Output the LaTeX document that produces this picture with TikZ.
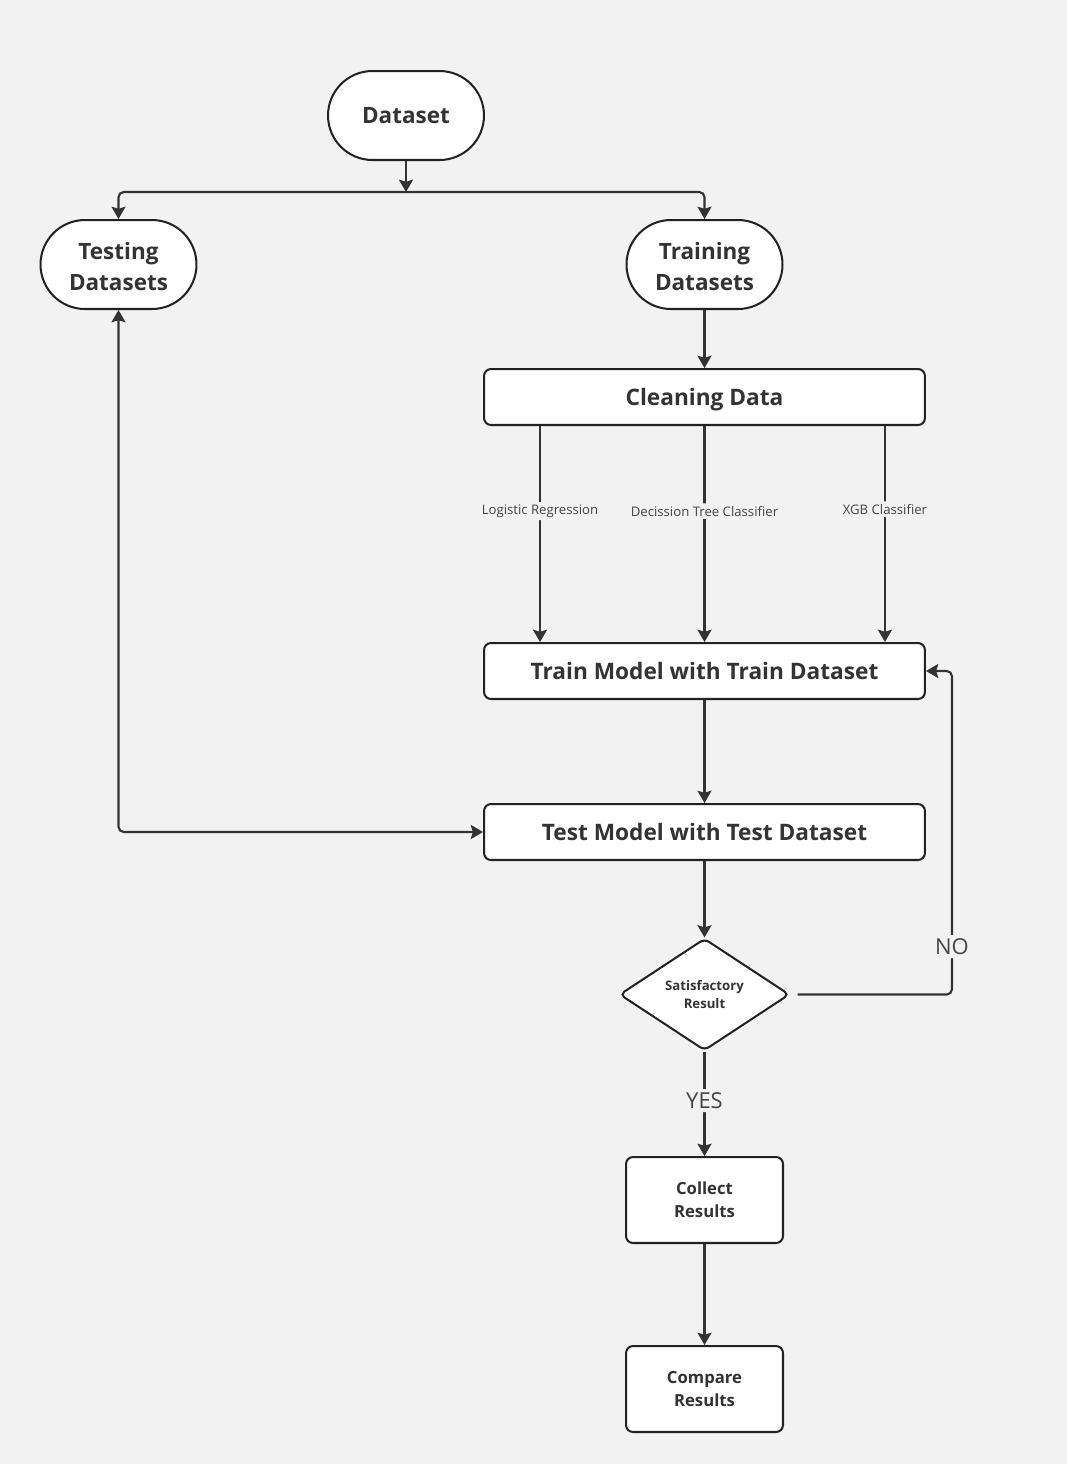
\documentclass[tikz,border=0pt]{standalone}
\usepackage{fontspec}
\setmainfont{Open Sans}
\usetikzlibrary{arrows.meta,shapes.geometric,calc}
\definecolor{bg}{HTML}{F2F2F2}
\definecolor{ink}{HTML}{333333}
\definecolor{edge}{HTML}{222222}
\definecolor{lbl}{HTML}{444444}
% taller first line, so that a two-line label sits a little lower
\newcommand{\toplift}{\rule{0pt}{11.6pt}}
\begin{document}
\begin{tikzpicture}[x=0.02cm,y=-0.02cm,
  every node/.style={text=ink},
  startbox/.style={draw=edge,line width=1.15pt,fill=white,rounded corners=0.89cm,
    minimum width=3.12cm,minimum height=1.78cm,inner sep=0pt,align=center,
    font=\bfseries\fontsize{12.8}{17.6}\selectfont},
  widebox/.style={draw=edge,line width=1.15pt,fill=white,rounded corners=4pt,
    minimum width=8.82cm,minimum height=1.12cm,inner sep=0pt,align=center,
    text depth=0pt,font=\bfseries\fontsize{12.9}{17.5}\selectfont},
  smallbox/.style={draw=edge,line width=1.15pt,fill=white,rounded corners=4pt,
    minimum width=3.14cm,minimum height=1.72cm,inner sep=0pt,align=center,
    font=\bfseries\fontsize{9.5}{13}\selectfont},
  decision/.style={draw=edge,line width=1.15pt,fill=white,diamond,rounded corners=3pt,
    minimum width=3.4cm,minimum height=2.24cm,inner sep=0pt,align=center,
    font=\bfseries\fontsize{7.5}{10.8}\selectfont},
  arr/.style={draw=ink,line width=1.2pt,rounded corners=3pt,-{Stealth[length=7pt,width=8pt,inset=1.2pt]}},
  darr/.style={draw=ink,line width=1.2pt,rounded corners=3pt,
    {Stealth[length=7pt,width=8pt,inset=1.2pt]}-{Stealth[length=7pt,width=8pt,inset=1.2pt]}},
  edgelbl/.style={fill=bg,inner sep=1.5pt,text=lbl,font=\fontsize{7.5}{9}\selectfont},
  answer/.style={fill=bg,inner sep=2pt,text=lbl,font=\fontsize{12.5}{14}\selectfont},
]
% canvas
\fill[bg] (0,0) rectangle (1067,1464);
\useasboundingbox (0,0) rectangle (1067,1464);

% nodes
\node[startbox] (dataset) at (406,115.5) {Dataset};
\node[startbox] (testing) at (118.5,264.5) {\toplift Testing\\Datasets};
\node[startbox] (training) at (704.5,264.5) {\toplift Training\\Datasets};
\node[widebox] (clean) at (704.5,397) {Cleaning Data};
\node[widebox] (train) at (704.5,671) {Train Model with Train Dataset};
\node[widebox] (test) at (704.5,832) {Test Model with Test Dataset};
\node[decision] (sat) at (704.5,994.5) {Satisfactory\\Result};
\node[smallbox] (collect) at (704.5,1200) {Collect\\Results};
\node[smallbox] (compare) at (704.5,1389) {Compare\\Results};

% split of the dataset
\coordinate (split) at (406,192);
\coordinate (noturn) at (952,671);
\draw[arr] (dataset) -- (split);
\draw[arr] (split) -| (testing);
\draw[arr] (split) -| (training);

\draw[arr] (training) -- (clean);

% the three classifiers
\draw[arr] ([xshift=1.14cm]clean.south west) -- ([xshift=1.14cm]train.north west)
  node[edgelbl,pos=0.394] {Logistic Regression};
\draw[arr] (clean.south) -- (train.north)
  node[edgelbl,pos=0.394] {Decission Tree Classifier};
\draw[arr] ([xshift=8.04cm]clean.south west) -- ([xshift=8.04cm]train.north west)
  node[edgelbl,pos=0.385] {XGB Classifier};

\draw[arr] (train) -- (test);
\draw[darr] (testing.south) |- (test.west);
\draw[arr] (test) -- (sat);

% decision outcomes
\draw[arr,shorten <=4pt] (sat.east) -| (noturn)
  node[answer,pos=0.574] {NO} -- (train.east);
\draw[arr] (sat.south) -- (collect.north) node[answer,pos=0.47] {YES};
\draw[arr] (collect) -- (compare);
\end{tikzpicture}
\end{document}
